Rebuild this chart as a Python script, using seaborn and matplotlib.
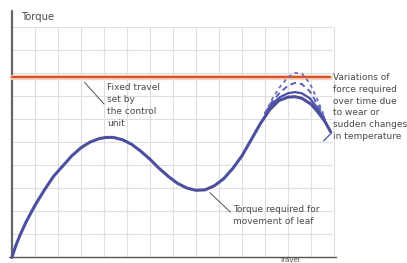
import pandas as pd
import seaborn as sns
import matplotlib.pyplot as plt

# travel (grid units) vs torque (grid units)
travel = [0, 0.15, 0.35, 0.6, 1.0, 1.4, 1.8, 2.2, 2.6, 3.0, 3.4, 3.8, 4.1, 4.4, 4.8,
          5.2, 5.6, 6.0, 6.4, 6.8, 7.2, 7.6, 8.0, 8.4, 8.8, 9.2, 9.6, 10.0, 10.4,
          10.8, 11.2, 11.6, 12.0, 12.3, 12.6, 13.0, 13.3, 13.6, 13.85]
torque = [0, 0.45, 0.95, 1.5, 2.25, 2.9, 3.5, 3.95, 4.4, 4.75, 5.0, 5.15, 5.2, 5.2, 5.1,
          4.9, 4.6, 4.25, 3.85, 3.5, 3.2, 3.0, 2.9, 2.92, 3.1, 3.4, 3.85, 4.4, 5.1,
          5.8, 6.4, 6.8, 6.95, 6.97, 6.9, 6.65, 6.3, 5.9, 5.45]

var_travel = [11.0, 11.3, 11.65, 12.0, 12.3, 12.6, 12.95, 13.3, 13.6]
var_torque = {
    'v1': [6.25, 6.65, 6.95, 7.12, 7.17, 7.12, 6.9, 6.45, 5.95],
    'v2': [6.25, 6.75, 7.15, 7.45, 7.57, 7.52, 7.2, 6.6, 6.0],
    'v3': [6.25, 6.85, 7.4, 7.82, 8.0, 7.98, 7.55, 6.8, 6.05],
}
fixed_travel = 7.83

sns.set_style('white')
plt.rcParams['font.family'] = ['DejaVu Sans']

fig = plt.figure(figsize=(4.07, 2.63), dpi=100)
ax = fig.add_axes([0, 0, 1, 1])
ax.set_xlim(-12 / 23, 395 / 23)
ax.set_ylim(-6 / 23, 257 / 23)
ax.axis('off')

# grid
grid_c = '#dedede'
for gx in range(1, 15):
    ax.plot([gx, gx], [0, 10], color=grid_c, lw=0.8, zorder=0)
for gy in range(1, 11):
    ax.plot([0, 13.9], [gy, gy], color=grid_c, lw=0.8, zorder=0)

# axes
ax.plot([0, 0], [-0.05, 10.7], color='#666666', lw=1.6, zorder=1)
ax.plot([-0.15, 14.1], [0, 0], color='#555555', lw=1.0, zorder=1)

# fixed travel line
ax.axhline(fixed_travel, xmin=0.03, xmax=0.81, color='#f7d0c0', lw=3.8, zorder=1)
ax.axhline(fixed_travel, xmin=0.03, xmax=0.81, color='#d9532b', lw=1.6, zorder=2)

# variations
sns.lineplot(x=var_travel, y=var_torque['v1'], ax=ax, color='#4b50a5', lw=1.6,
             sort=False, zorder=3)
sns.lineplot(x=var_travel, y=var_torque['v2'], ax=ax, color='#5a5fb0', lw=1.4,
             sort=False, zorder=3, linestyle=(0, (3, 2)))
sns.lineplot(x=var_travel, y=var_torque['v3'], ax=ax, color='#6a6fbb', lw=1.3,
             sort=False, zorder=3, linestyle=(0, (2, 2)))

# main curve
df = pd.DataFrame({'travel': travel, 'torque': torque})
sns.lineplot(data=df, x='travel', y='torque', ax=ax, color='#4b4f9e', lw=2.2,
             sort=False, zorder=4)

txt = dict(fontsize=6.5, color='#4a4a4a', va='top', ha='left', linespacing=1.4)
ax.text(0.4, 10.65, 'Torque', fontsize=7.2, color='#4a4a4a', va='top', ha='left')
ax.text(4.15, 7.55, 'Fixed travel\nset by\nthe control\nunit', **txt)
ax.plot([3.15, 4.0], [7.6, 6.65], color='#555555', lw=0.7)
ax.text(13.95, 8.0, 'Variations of\nforce required\nover time due\nto wear or\nsudden changes\nin temperature',
        **txt)
ax.plot([13.9, 13.55], [5.4, 5.05], color='#4b50a5', lw=0.9)
ax.text(9.6, 2.25, 'Torque required for\nmovement of leaf', **txt)
ax.plot([8.6, 9.5], [2.8, 1.95], color='#555555', lw=0.7)
ax.text(11.6, -0.25, 'Travel', fontsize=5, color='#4a4a4a', va='bottom', ha='left')

plt.savefig('out.png', dpi=100)
